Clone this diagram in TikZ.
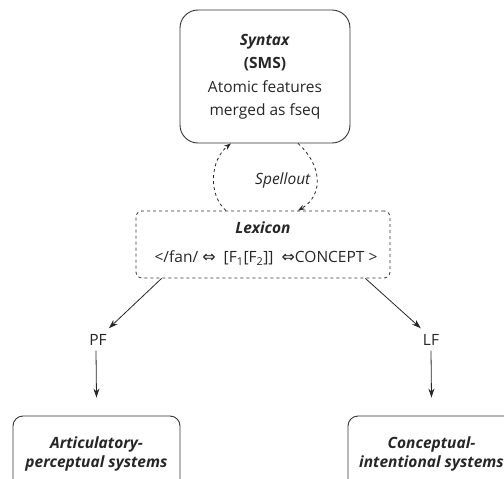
\documentclass[tikz,border=0pt]{standalone}
\usepackage{fontspec}
\setmainfont{Open Sans}
\newfontfamily\dvsym{DejaVu Sans}
\usetikzlibrary{arrows.meta,calc}
\newcommand{\iffarrow}{{\dvsym\fontsize{16}{18}\selectfont ⇔}}
\begin{document}
\begin{tikzpicture}[x=1pt,y=-1pt,
  every node/.style={font=\fontsize{15.5}{18.5}\selectfont, text=black!85, align=center, inner sep=0pt},
  solidbox/.style={draw=black!80, line width=0.9pt},
  arr/.style={draw=black!85, line width=0.8pt, -{Stealth[length=9pt,width=6pt]}},
  darr/.style={arr, dashed, -{Stealth[length=7pt,width=5pt]}}]
\useasboundingbox (0,0) rectangle (504,479);
\node[solidbox, rounded corners=18pt, minimum width=170pt, minimum height=133pt, font=\fontsize{15.5}{23.5}\selectfont] (syn) at (265,76.5)
  {\textbf{\textit{Syntax}}\\\textbf{(SMS)}\\Atomic features\\merged as fseq};
\node[draw=black!80, line width=0.8pt, dashed, rounded corners=6pt, minimum width=254pt, minimum height=67pt] (lex) at (263,244.5) {};
\node (lext) at (263,228) {\textbf{\textit{Lexicon}}};
\node (form) at (266,258) {</fan/ \iffarrow\ \ [F\textsubscript{1}[F\textsubscript{2}]] \ \iffarrow CONCEPT >};
\node (spell) at (283,180) {\textit{Spellout}};
\node (pf) at (98,340) {PF};
\node (lf) at (431,340) {LF};
\node[solidbox, rounded corners=10pt, minimum width=167pt, minimum height=76pt] (ap) at (96.5,454)
  {\textbf{\textit{Articulatory-}}\\\textbf{\textit{perceptual systems}}};
\node[solidbox, rounded corners=10pt, minimum width=167pt, minimum height=76pt] (ci) at (431.5,454)
  {\textbf{\textit{Conceptual-}}\\\textbf{\textit{intentional systems}}};
\coordinate (l1) at ($(lex.north)+(-37,0)$);
\coordinate (s1) at ($(syn.south)+(-34,0)$);
\coordinate (s2) at ($(syn.south)+(33,0)$);
\coordinate (l2) at ($(lex.north)+(35,0)$);
\draw[darr] (l1) .. controls (208,195) and (210,160) .. (s1);
\draw[darr] (s2) .. controls (322,165) and (324,195) .. (l2);
\coordinate (lb1) at ($(lex.south west)+(26,0)$);
\coordinate (lb2) at ($(lex.south east)+(-25,0)$);
\draw[arr] (lb1) -- ($(pf.north east)+(2,-6)$);
\draw[arr] (lb2) -- ($(lf.north west)+(-2,-6)$);
\draw[arr] ($(pf.south)+(-2,5)$) -- ($(ap.north)+(0,-18)$);
\draw[arr] ($(lf.south)+(0,5)$) -- ($(ci.north)+(0,-18)$);
\end{tikzpicture}
\end{document}
